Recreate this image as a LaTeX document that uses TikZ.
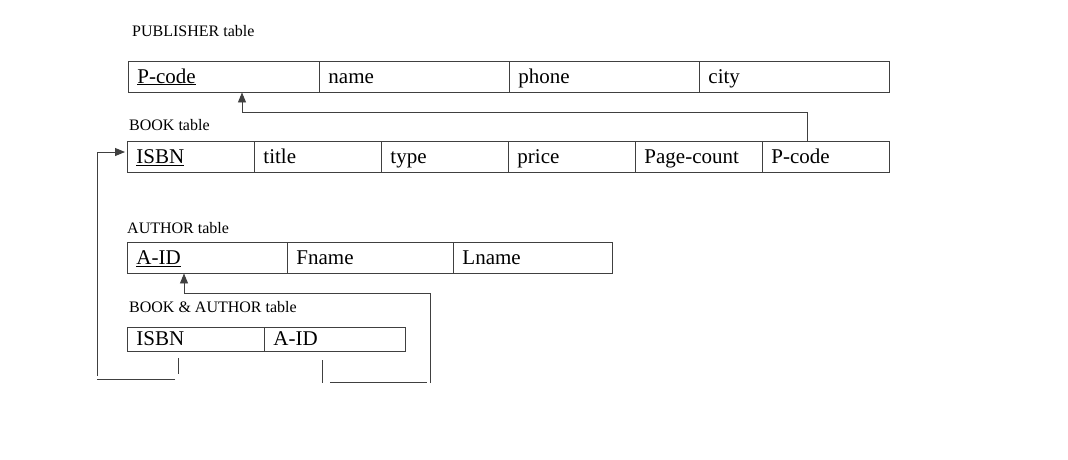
\documentclass[tikz,border=0pt]{standalone}
\usepackage{fontspec}
\setmainfont{Liberation Serif}
\usetikzlibrary{arrows.meta}
\newcommand\ulthick[1]{\leavevmode\setbox0\hbox{#1}\rlap{\copy0}\raisebox{-3.2pt}{\rule{\wd0}{1.5pt}}}
\begin{document}
\begin{tikzpicture}[x=1pt,y=-1pt,
  cell/.style={draw=black!75, line width=0.9pt, anchor=west, inner xsep=9pt, inner ysep=0pt,
     font=\fontsize{21}{24}\selectfont, align=left, text height=16pt, text depth=3pt},
  lab/.style={anchor=west, inner sep=0pt, font=\fontsize{16}{18}\selectfont},
  conn/.style={draw=black!75, line width=0.9pt},
  tip/.style={-{Triangle[length=10pt,width=8pt]}}]
\fill[white] (0,0) rectangle (1068,459);
\useasboundingbox (0,0) rectangle (1068,459);

% PUBLISHER
\node[lab] (plab) at (132,31) {PUBLISHER table};
\node[cell, text width=173pt, minimum height=31pt] (ppcode) at (128,76.5) {\underline{P-code}};
\node[cell, text width=172pt, minimum height=31pt] (pname)  at (319,76.5) {name};
\node[cell, text width=172pt, minimum height=31pt] (pphone) at (509,76.5) {phone};
\node[cell, text width=172pt, minimum height=31pt] (pcity)  at (699,76.5) {city};

% BOOK
\node[lab] (blab) at (129,125) {BOOK table};
\node[cell, text width=109pt, minimum height=31pt] (bisbn)  at (127,156.5) {\ulthick{ISBN}};
\node[cell, text width=109pt, minimum height=31pt] (btitle) at (254,156.5) {title};
\node[cell, text width=109pt, minimum height=31pt] (btype)  at (381,156.5) {type};
\node[cell, text width=109pt, minimum height=31pt] (bprice) at (508,156.5) {price};
\node[cell, text width=109pt, minimum height=31pt] (bpage)  at (635,156.5) {Page-count};
\node[cell, text width=109pt, minimum height=31pt] (bpcode) at (762,156.5) {P-code};

% AUTHOR
\node[lab] (alab) at (127,228) {AUTHOR table};
\node[cell, text width=142pt, minimum height=31pt] (aaid)   at (127,257.5) {\ulthick{A-ID}};
\node[cell, text width=148pt, minimum height=31pt] (afname) at (287,257.5) {Fname};
\node[cell, text width=141pt, minimum height=31pt] (alname) at (453,257.5) {Lname};

% BOOK & AUTHOR
\node[lab] (balab) at (129,307) {BOOK \& AUTHOR table};
\node[cell, text width=119pt, minimum height=24pt] (baisbn) at (127,339) {ISBN};
\node[cell, text width=123pt, minimum height=24pt] (baaid)  at (264,339) {A-ID};

% P-code foreign key
\coordinate (c1) at (807,112);
\coordinate (c2) at (242,112);
\draw[conn,tip] (bpcode.north -| c1) |- (c2) -- (ppcode.south -| c2);

% ISBN foreign key
\coordinate (d1) at (178,358);
\coordinate (d2) at (178,374);
\coordinate (d3) at (175,379);
\coordinate (d4) at (97,379);
\coordinate (d5) at (97,376);
\coordinate (d6) at (97,152);
\coordinate (d7) at (125,152);
\draw[conn] (d1) -- (d2);
\draw[conn] (d3) -- (d4);
\draw[conn,tip] (d5) -- (d6) -- (d7);

% A-ID foreign key
\coordinate (e1) at (322,360);
\coordinate (e2) at (322,383);
\coordinate (e3) at (330,382);
\coordinate (e4) at (427,382);
\coordinate (e5) at (430,383);
\coordinate (e6) at (430,293);
\coordinate (e7) at (184,293);
\draw[conn] (e1) -- (e2);
\draw[conn] (e3) -- (e4);
\draw[conn,tip] (e5) -- (e6) -- (e7) -- (aaid.south -| e7);
\end{tikzpicture}
\end{document}
